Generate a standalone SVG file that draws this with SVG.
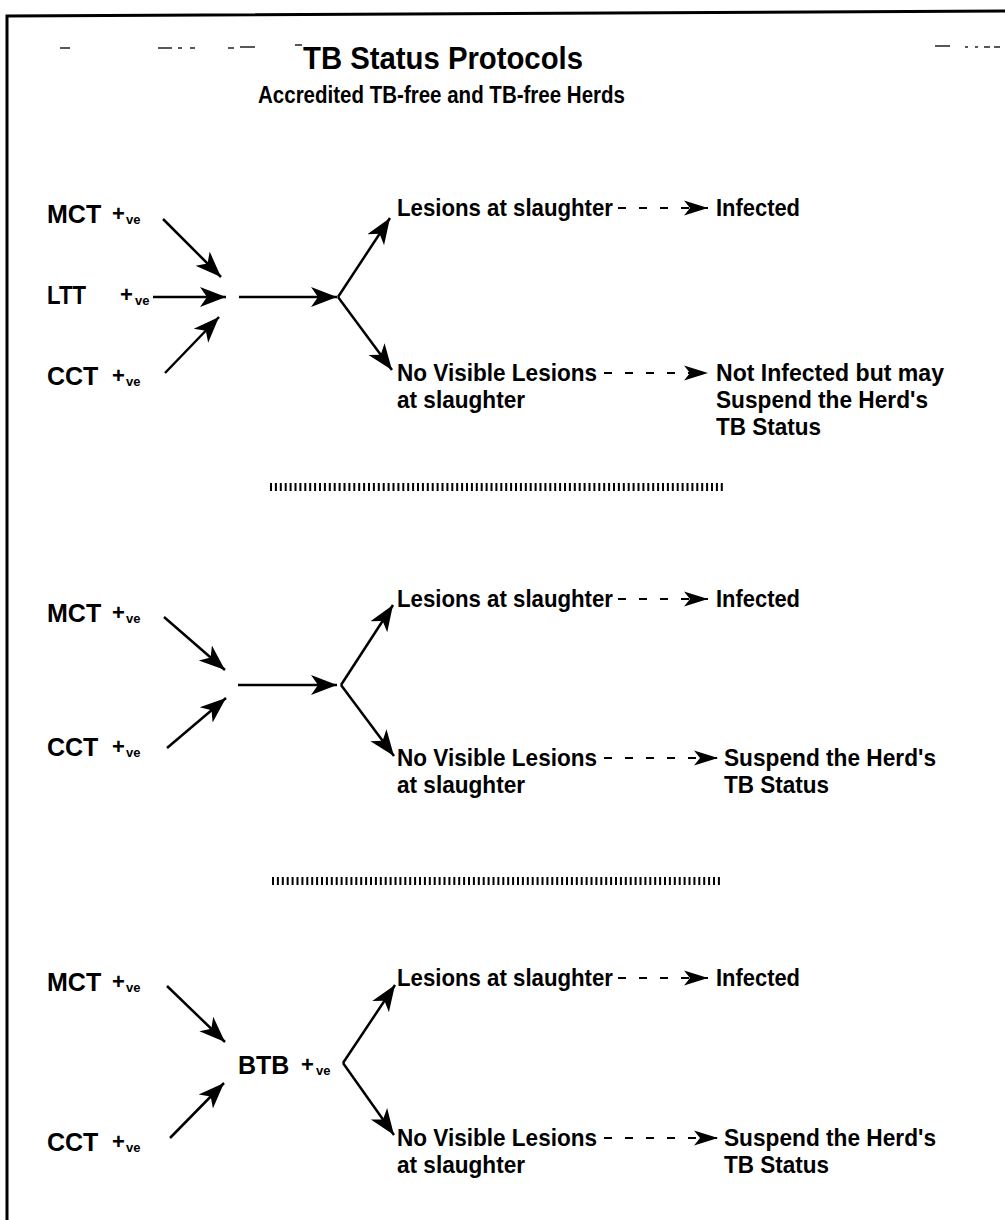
<svg xmlns="http://www.w3.org/2000/svg" width="1005" height="1220" viewBox="0 0 1005 1220">
<defs>
<style>
text{font-family:"Liberation Sans",Arial,Helvetica,sans-serif;fill:#000;font-weight:bold}
.t1{font-size:32px}
.t2{font-size:23px}
.lab{font-size:25px}
.pl{font-size:22px}
.ve{font-size:13px}
.tx{font-size:24px}
.sol{stroke:#000;stroke-width:2.5;fill:none;marker-end:url(#ah)}
.dsh{stroke:#000;stroke-width:2;fill:none;stroke-dasharray:8 13;marker-end:url(#dh)}
.sep{stroke:#000;stroke-width:8;stroke-dasharray:2 2.9;fill:none}
.frm{stroke:#000;stroke-width:3;fill:none}
.nz{stroke:#222;stroke-width:1.5;fill:none}
</style>
<marker id="ah" markerUnits="userSpaceOnUse" markerWidth="27" markerHeight="22" viewBox="0 0 27 22" refX="26" refY="11" orient="auto">
<path d="M26,11 L0,1 L7,11 L0,21 Z" fill="#000"/>
</marker>
<marker id="dh" markerUnits="userSpaceOnUse" markerWidth="25" markerHeight="17" viewBox="0 0 25 17" refX="24" refY="8.5" orient="auto">
<path d="M24,8.5 L0,1 L6,8.5 L0,16 Z" fill="#000"/>
</marker>
</defs>
<rect width="1005" height="1220" fill="#fff"/>

<g id="frame">
<path class="frm" d="M7,1220 L7,16 L1005,11"/>
<path class="nz" d="M60,48 L70,48 M158,48 L172,48 M178,48 L182,48 M190,48 L195,48 M228,48 L234,48 M240,47 L255,47 M295,45 L302,45 M935,46 L950,46 M965,47 L968,47 M975,47 L978,47 M984,47 L990,47 M994,47 L1000,47"/>
</g>

<g id="title">
<text class="t1" x="303" y="69" textLength="280" lengthAdjust="spacingAndGlyphs">TB Status Protocols</text>
</g>
<g id="subtitle">
<text class="t2" x="258" y="103" textLength="367" lengthAdjust="spacingAndGlyphs">Accredited TB-free and TB-free Herds</text>
</g>

<!-- Section 1 -->
<g id="s1-mct"><text class="lab" x="47" y="223">MCT</text><text class="pl" x="112" y="221">+</text><text class="ve" x="126" y="224">ve</text></g>
<g id="s1-ltt"><text class="lab" x="47" y="304" textLength="39" lengthAdjust="spacingAndGlyphs">LTT</text><text class="pl" x="120" y="302">+</text><text class="ve" x="135" y="305">ve</text></g>
<g id="s1-cct"><text class="lab" x="47" y="385">CCT</text><text class="pl" x="112" y="383">+</text><text class="ve" x="126" y="386">ve</text></g>
<g id="s1-lesions"><text class="tx" x="397" y="216" textLength="216" lengthAdjust="spacingAndGlyphs">Lesions at slaughter</text></g>
<g id="s1-infected"><text class="tx" x="716" y="216" textLength="84" lengthAdjust="spacingAndGlyphs">Infected</text></g>
<g id="s1-nvl"><text class="tx"><tspan x="397" y="381" textLength="200" lengthAdjust="spacingAndGlyphs">No Visible Lesions</tspan><tspan x="397" y="408" textLength="128" lengthAdjust="spacingAndGlyphs">at slaughter</tspan></text></g>
<g id="s1-notinf"><text class="tx"><tspan x="716" y="381" textLength="228" lengthAdjust="spacingAndGlyphs">Not Infected but may</tspan><tspan x="716" y="408" textLength="212" lengthAdjust="spacingAndGlyphs">Suspend the Herd's</tspan><tspan x="716" y="435" textLength="105" lengthAdjust="spacingAndGlyphs">TB Status</tspan></text></g>

<!-- Section 2 -->
<g id="s2-mct"><text class="lab" x="47" y="622">MCT</text><text class="pl" x="112" y="620">+</text><text class="ve" x="126" y="623">ve</text></g>
<g id="s2-cct"><text class="lab" x="47" y="756">CCT</text><text class="pl" x="112" y="754">+</text><text class="ve" x="126" y="757">ve</text></g>
<g id="s2-lesions"><text class="tx" x="397" y="607" textLength="216" lengthAdjust="spacingAndGlyphs">Lesions at slaughter</text></g>
<g id="s2-infected"><text class="tx" x="716" y="607" textLength="84" lengthAdjust="spacingAndGlyphs">Infected</text></g>
<g id="s2-nvl"><text class="tx"><tspan x="397" y="766" textLength="200" lengthAdjust="spacingAndGlyphs">No Visible Lesions</tspan><tspan x="397" y="793" textLength="128" lengthAdjust="spacingAndGlyphs">at slaughter</tspan></text></g>
<g id="s2-suspend"><text class="tx"><tspan x="724" y="766" textLength="212" lengthAdjust="spacingAndGlyphs">Suspend the Herd's</tspan><tspan x="724" y="793" textLength="105" lengthAdjust="spacingAndGlyphs">TB Status</tspan></text></g>

<!-- Section 3 -->
<g id="s3-mct"><text class="lab" x="47" y="991">MCT</text><text class="pl" x="112" y="989">+</text><text class="ve" x="126" y="992">ve</text></g>
<g id="s3-btb"><text class="lab" x="238" y="1074">BTB</text><text class="pl" x="301" y="1072">+</text><text class="ve" x="316" y="1075">ve</text></g>
<g id="s3-cct"><text class="lab" x="47" y="1151">CCT</text><text class="pl" x="112" y="1149">+</text><text class="ve" x="126" y="1152">ve</text></g>
<g id="s3-lesions"><text class="tx" x="397" y="986" textLength="216" lengthAdjust="spacingAndGlyphs">Lesions at slaughter</text></g>
<g id="s3-infected"><text class="tx" x="716" y="986" textLength="84" lengthAdjust="spacingAndGlyphs">Infected</text></g>
<g id="s3-nvl"><text class="tx"><tspan x="397" y="1146" textLength="200" lengthAdjust="spacingAndGlyphs">No Visible Lesions</tspan><tspan x="397" y="1173" textLength="128" lengthAdjust="spacingAndGlyphs">at slaughter</tspan></text></g>
<g id="s3-suspend"><text class="tx"><tspan x="724" y="1146" textLength="212" lengthAdjust="spacingAndGlyphs">Suspend the Herd's</tspan><tspan x="724" y="1173" textLength="105" lengthAdjust="spacingAndGlyphs">TB Status</tspan></text></g>

<g id="separators">
<line class="sep" x1="270" y1="487" x2="725" y2="487"/>
<line class="sep" x1="272" y1="881" x2="722" y2="881"/>
</g>

<g id="connectors">
<!-- section 1 -->
<line class="sol" x1="163" y1="219" x2="221" y2="277"/>
<line class="sol" x1="153" y1="297" x2="226" y2="297"/>
<line class="sol" x1="165" y1="373" x2="219" y2="317"/>
<line class="sol" x1="239" y1="297" x2="337" y2="297"/>
<line class="sol" x1="338" y1="297" x2="390" y2="218"/>
<line class="sol" x1="338" y1="297" x2="392" y2="370"/>
<line class="dsh" x1="618" y1="208" x2="708" y2="208"/>
<line class="dsh" x1="604" y1="373" x2="708" y2="373"/>
<!-- section 2 -->
<line class="sol" x1="164" y1="617" x2="225" y2="670"/>
<line class="sol" x1="167" y1="748" x2="226" y2="698"/>
<line class="sol" x1="238" y1="685" x2="337" y2="685"/>
<line class="sol" x1="341" y1="685" x2="393" y2="605"/>
<line class="sol" x1="341" y1="685" x2="394" y2="756"/>
<line class="dsh" x1="618" y1="599" x2="708" y2="599"/>
<line class="dsh" x1="604" y1="758" x2="718" y2="758"/>
<!-- section 3 -->
<line class="sol" x1="167" y1="986" x2="225" y2="1042"/>
<line class="sol" x1="170" y1="1138" x2="224" y2="1083"/>
<line class="sol" x1="343" y1="1063" x2="395" y2="985"/>
<line class="sol" x1="343" y1="1063" x2="394" y2="1135"/>
<line class="dsh" x1="618" y1="978" x2="708" y2="978"/>
<line class="dsh" x1="604" y1="1138" x2="718" y2="1138"/>
</g>
</svg>
